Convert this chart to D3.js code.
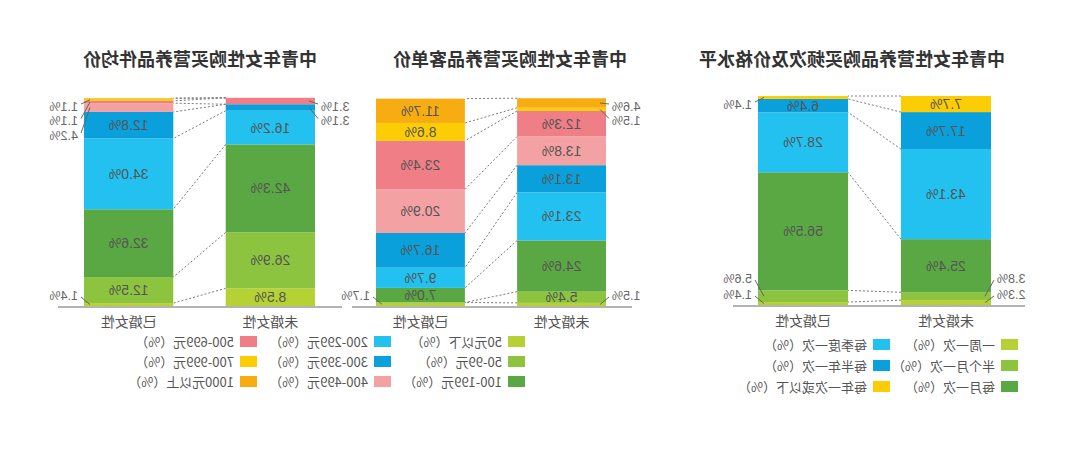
<!DOCTYPE html>
<html>
<head>
<meta charset="utf-8">
<script src="https://cdn.jsdelivr.net/npm/d3@7"></script>
<style>
  body { margin: 0; background: #fff; }
  svg { display: block; font-family: "Noto Sans CJK SC", "Noto Sans", sans-serif; }
</style>
</head>
<body>
<svg id="chart" width="1080" height="453"></svg>
<script>
// categories
var groups = ["未婚女性", "已婚女性"];
var priceCats = ["50元以下", "50-99元", "100-199元", "200-299元", "300-399元", "400-499元", "500-699元", "700-999元", "1000元以上"];
var priceColors = ["#b6d133", "#8cc43f", "#5aa843", "#22c1ef", "#0aa0dc", "#f4a1a4", "#ef7e86", "#fccd05", "#f7ad12"];
var freqCats = ["一周一次", "半个月一次", "每月一次", "每季度一次", "每半年一次", "每年一次或以下"];
var freqColors = ["#b6d133", "#8cc43f", "#5aa843", "#22c1ef", "#0aa0dc", "#fccd05"];

// 件均价 (%)
var itemSingle = [8.5, 26.9, 42.3, 16.2, 3.1, 0, 3.1, 0, 0];
var itemMarried = [1.4, 12.5, 32.6, 34.0, 12.8, 4.2, 1.1, 1.1, 0.3];
// 客单价 (%)
var orderSingle = [1.5, 5.4, 24.6, 23.1, 13.1, 13.8, 12.3, 1.5, 4.6];
var orderMarried = [1.7, 0, 7.0, 9.7, 16.7, 20.9, 23.4, 8.6, 11.7];
// 购买频次 (%)
var freqSingle = [2.3, 3.8, 25.4, 43.1, 17.7, 7.7];
var freqMarried = [1.4, 5.6, 56.5, 28.7, 6.4, 1.4];

var svg = d3.select("#chart");
// the reference picture is mirrored left-right
var root = svg.append("g").attr("transform", "translate(1080,0) scale(-1,1)");

function drawChart(opt) {
  var g = root.append("g");
  var x = d3.scaleBand().domain(groups).range(opt.xr).paddingInner(0.37).paddingOuter(0);
  var y = d3.scaleLinear().domain([0, 100]).range([opt.bottom, opt.top]);
  var bw = x.bandwidth();

  g.append("text").attr("x", opt.cx).attr("y", 66).attr("text-anchor", "middle")
    .attr("font-size", 18).attr("font-weight", "bold").attr("fill", "#333").text(opt.title);

  var series = [opt.single, opt.married];
  var stacks = series.map(function(vals) {
    var c = 0;
    return vals.map(function(v, i) { var s = { i: i, v: v, y0: c, y1: c + v }; c += v; return s; });
  });

  // dashed connectors between the two bars
  var xs = x(groups[0]) + bw, xm = x(groups[1]);
  var bounds = stacks[0].map(function(s, i) { return [s.y1, stacks[1][i].y1]; });
  g.selectAll(".conn").data(bounds).enter().append("line")
    .attr("x1", xs).attr("x2", xm)
    .attr("y1", function(d) { return y(d[0]); })
    .attr("y2", function(d) { return y(d[1]); })
    .attr("stroke", "#7a7a7a").attr("stroke-width", 1).attr("stroke-dasharray", "2,2");

  stacks.forEach(function(stack, k) {
    var bx = x(groups[k]);
    var bg = g.append("g");
    bg.selectAll("rect").data(stack).enter().append("rect")
      .attr("x", bx).attr("width", bw)
      .attr("y", function(d) { return y(d.y1); })
      .attr("height", function(d) { return y(d.y0) - y(d.y1); })
      .attr("fill", function(d) { return opt.colors[d.i]; });

    bg.selectAll("text.in").data(stack.filter(function(d) { return d.v >= opt.minInside; }))
      .enter().append("text")
      .attr("x", bx + bw / 2)
      .attr("y", function(d) { return (y(d.y0) + y(d.y1)) / 2; })
      .attr("dy", "0.36em").attr("text-anchor", "middle")
      .attr("font-family", "'Liberation Sans', sans-serif")
      .attr("font-size", 14).attr("fill", "#555")
      .text(function(d) { return d.v.toFixed(1) + "%"; });

    // outside labels for thin segments
    var small = stack.filter(function(d) { return d.v >= 1 && d.v < opt.minInside; });
    var topSet = small.filter(function(d) { return d.y0 > 50; }).reverse();
    var botSet = small.filter(function(d) { return d.y0 <= 50; });
    var outward = k === 0 ? -1 : 1;
    var edge = k === 0 ? bx : bx + bw;
    var lab = [];
    topSet.forEach(function(d, j) { lab.push({ d: d, ly: opt.top + 8 + j * 14.5 }); });
    botSet.forEach(function(d, j) { lab.push({ d: d, ly: opt.bottom - 11 - j * 16 }); });
    lab.forEach(function(l) {
      var sm = (y(l.d.y0) + y(l.d.y1)) / 2;
      bg.append("line")
        .attr("x1", edge - outward * 6).attr("y1", sm)
        .attr("x2", edge + outward * 3).attr("y2", l.ly + (l.ly > sm ? -2 : 2))
        .attr("stroke", "#666").attr("stroke-width", 1);
      bg.append("text")
        .attr("x", edge + outward * 6).attr("y", l.ly).attr("dy", "0.36em")
        .attr("text-anchor", k === 0 ? "end" : "start")
        .attr("font-family", "'Liberation Sans', sans-serif")
        .attr("font-size", 12.5).attr("fill", "#666")
        .text(l.d.v.toFixed(1) + "%");
    });

    g.append("text").attr("x", bx + bw / 2).attr("y", opt.bottom + 16).attr("dy", "0.36em")
      .attr("text-anchor", "middle").attr("font-size", 14).attr("fill", "#555").text(groups[k]);
  });

  g.append("line").attr("x1", opt.base[0]).attr("x2", opt.base[1])
    .attr("y1", opt.bottom + 1).attr("y2", opt.bottom + 1)
    .attr("stroke", "#9a9a9a").attr("stroke-width", 1.5);
}

drawChart({ title: "中青年女性购买营养品件均价", cx: 880, xr: [765, 996], top: 98, bottom: 306,
  base: [738, 1022], single: itemSingle, married: itemMarried, colors: priceColors, minInside: 5 });
drawChart({ title: "中青年女性购买营养品客单价", cx: 570, xr: [474, 704], top: 98, bottom: 306,
  base: [448, 728], single: orderSingle, married: orderMarried, colors: priceColors, minInside: 5 });
drawChart({ title: "中青年女性营养品购买频次及价格水平", cx: 228, xr: [89, 322], top: 96, bottom: 305,
  base: [55, 347], single: freqSingle, married: freqMarried, colors: freqColors, minInside: 6 });

// legends
function drawLegend(cats, colors, cols, rows) {
  var lg = root.append("g");
  var items = cats.map(function(c, i) { return { name: c, color: colors[i], col: Math.floor(i / 3), row: i % 3 }; });
  var it = lg.selectAll("g").data(items).enter().append("g")
    .attr("transform", function(d) { return "translate(" + cols[d.col] + "," + rows[d.row] + ")"; });
  it.append("rect").attr("x", 0).attr("y", -6).attr("width", 17).attr("height", 11).attr("fill", function(d) { return d.color; });
  it.append("text").attr("x", 23).attr("dy", "0.36em").attr("font-size", 13).attr("fill", "#555")
    .text(function(d) { return d.name + "（%）"; });
}
drawLegend(priceCats, priceColors, [555, 689, 823], [342, 362, 382]);
drawLegend(freqCats, freqColors, [62, 190], [345, 366, 387]);
</script>
</body>
</html>
